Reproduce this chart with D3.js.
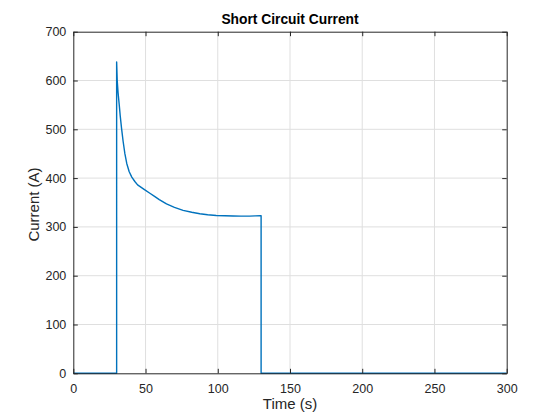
<!DOCTYPE html>
<html><head><meta charset="utf-8">
<script src="https://cdn.jsdelivr.net/npm/d3@7"></script>
<style>body{margin:0;background:#fff;}svg{display:block;font-family:"Liberation Sans",Arial,sans-serif;}</style>
</head><body><svg id="c" width="560" height="420"></svg>
<script>
const timeS = [0, 30, 30, 30.4, 31, 31.8, 32.5, 33.4, 34.5, 35.7, 37, 38.7, 40.5, 42.6, 44.5, 46, 49, 53, 56.5, 59.5, 64.5, 70, 76, 82, 87.6, 93, 99, 105, 110.6, 116, 122, 126, 129.6, 130, 130, 300];
const currentA = [0, 0, 638, 600, 575, 550, 527, 502, 475, 450, 430, 413, 402, 393, 386, 383, 377, 369, 362, 356, 347, 340, 334, 330, 327, 325, 323.5, 322.7, 322.2, 322, 322.1, 322.5, 323, 323, 0, 0];
const xTicks = [0, 50, 100, 150, 200, 250, 300];
const yTicks = [0, 100, 200, 300, 400, 500, 600, 700];
const titleText = "Short Circuit Current";
const xLabel = "Time (s)";
const yLabel = "Current (A)";

const svg = d3.select("#c");
const L = 73.3, R = 506.7, T = 31.7, B = 373.3;
const x = d3.scaleLinear().domain([0, 300]).range([L, R]);
const y = d3.scaleLinear().domain([0, 700]).range([B, T]);
const axisCol = "#262626", gridCol = "#dfdfdf";

// grid
svg.append("g").selectAll("line").data(xTicks.slice(1, -1)).join("line")
  .attr("x1", d => x(d)).attr("x2", d => x(d)).attr("y1", T).attr("y2", B)
  .attr("stroke", gridCol).attr("stroke-width", 1);
svg.append("g").selectAll("line").data(yTicks.slice(1, -1)).join("line")
  .attr("y1", d => y(d)).attr("y2", d => y(d)).attr("x1", L).attr("x2", R)
  .attr("stroke", gridCol).attr("stroke-width", 1);

// line
svg.append("path").datum(currentA)
  .attr("d", d3.line().x((d, i) => x(timeS[i])).y(d => y(d)))
  .attr("fill", "none").attr("stroke", "#0072BD").attr("stroke-width", 1.4).attr("stroke-linejoin", "round");

// axes
const tl = 4.5;
const xb = svg.append("g").attr("transform", `translate(0,${B})`)
  .call(d3.axisBottom(x).tickValues(xTicks).tickSize(-tl).tickPadding(11).tickSizeOuter(0));
const xt = svg.append("g").attr("transform", `translate(0,${T})`)
  .call(d3.axisTop(x).tickValues(xTicks).tickSize(-tl).tickFormat("").tickSizeOuter(0));
const yl = svg.append("g").attr("transform", `translate(${L},0)`)
  .call(d3.axisLeft(y).tickValues(yTicks).tickSize(-tl).tickPadding(7).tickSizeOuter(0));
const yr = svg.append("g").attr("transform", `translate(${R},0)`)
  .call(d3.axisRight(y).tickValues(yTicks).tickSize(-tl).tickFormat("").tickSizeOuter(0));
[xb, xt, yl, yr].forEach(g => {
  g.select(".domain").attr("stroke", axisCol).attr("stroke-width", 1);
  g.selectAll(".tick line").attr("stroke", axisCol);
  g.selectAll("text").attr("fill", axisCol).attr("font-size", 12.5).attr("font-family", "Liberation Sans, Arial, sans-serif");
});

svg.append("text").attr("x", (L + R) / 2).attr("y", 24).attr("text-anchor", "middle")
  .attr("font-weight", "bold").attr("font-size", 13.8).attr("fill", "#000").text(titleText);
svg.append("text").attr("x", (L + R) / 2).attr("y", 409).attr("text-anchor", "middle")
  .attr("font-size", 15).attr("fill", axisCol).text(xLabel);
svg.append("text").attr("transform", `translate(39,${(T + B) / 2 + 2}) rotate(-90)`).attr("text-anchor", "middle")
  .attr("font-size", 15).attr("fill", axisCol).text(yLabel);
</script></body></html>
